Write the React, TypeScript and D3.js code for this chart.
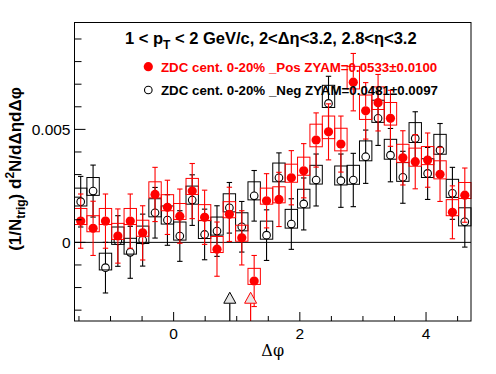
import * as d3 from 'd3';

// Δφ bin centres (32 bins over [-π/2, 3π/2])
const binCenters = [
  -1.4726, -1.2763, -1.0799, -0.8836, -0.6872, -0.4909, -0.2945, -0.0982,
  0.0982, 0.2945, 0.4909, 0.6872, 0.8836, 1.0799, 1.2763, 1.4726,
  1.669, 1.8653, 2.0617, 2.258, 2.4544, 2.6507, 2.8471, 3.0434,
  3.2398, 3.4361, 3.6325, 3.8288, 4.0252, 4.2215, 4.4179, 4.6142,
];
const halfBin = 0.09817;

// ZDC cent. 0-20% _Pos (red, filled)
const posY = [
  0.00094, 0.00062, 0.00094, 0.00028, 0.00094, 0.00042, 0.00212, 0.00155,
  0.00116, 0.00227, 0.00111, -0.0003, 0.00124, 0.0002, -0.00171, 0.00184,
  0.0019, 0.00286, 0.00317, 0.00453, 0.00489, 0.00435, 0.00709, 0.00582,
  0.00618, 0.00549, 0.00374, 0.00357, 0.00364, 0.00301, 0.00133, 0.00209,
];
const posErr = [
  0.0012, 0.0012, 0.0012, 0.0012, 0.0012, 0.0012, 0.0012, 0.0012,
  0.0012, 0.00122, 0.0012, 0.0012, 0.0012, 0.0012, 0.00113, 0.0012,
  0.0012, 0.0012, 0.0012, 0.0012, 0.00124, 0.00124, 0.00127, 0.00125,
  0.00125, 0.00124, 0.0012, 0.0012, 0.0012, 0.0012, 0.00117, 0.0012,
];
const posSysUp = [
  0.00056, 0.00056, 0.00056, 0.00056, 0.00056, 0.00056, 0.00056, 0.00056,
  0.00056, 0.00056, 0.00056, 0.00056, 0.00056, 0.00056, 0.00056, 0.00056,
  0.00056, 0.0006, 0.0006, 0.0007, 0.0007, 0.0007, 0.0007, 0.0007,
  0.0007, 0.0007, 0.0006, 0.0006, 0.0006, 0.0006, 0.00056, 0.00056,
];
const posSysDown = [
  0.00015, 0.00015, 0.00015, 0.00015, 0.00015, 0.00015, 0.00015, 0.00015,
  0.00015, 0.00015, 0.00015, 0.00015, 0.00015, 0.00015, 0.00015, 0.00015,
  0.00015, 0.0002, 0.0002, 0.0003, 0.0003, 0.0003, 0.0003, 0.00038,
  0.0003, 0.0003, 0.0002, 0.0002, 0.0002, 0.0002, 0.00015, 0.00015,
];

// ZDC cent. 0-20% _Neg (black, open)
const negY = [
  0.0018, 0.00227, -0.00112, 0.00006, -0.00044, 0.0001, 0.00131, 0.00099,
  0.00028, 0.00187, 0.00035, 0.0005, 0.00153, 0.00069, 0.00206, 0.00032,
  0.00286, 0.00081, 0.0017, 0.00276, 0.00615, 0.00273, 0.00276, 0.00379,
  0.00549, 0.00386, 0.00288, 0.0046, 0.00305, 0.00408, 0.00217, 0.00091,
];
const negErr = [
  0.00112, 0.00115, 0.00112, 0.00112, 0.00115, 0.00115, 0.00112, 0.00112,
  0.00112, 0.00112, 0.00112, 0.00112, 0.00112, 0.00112, 0.00112, 0.00112,
  0.0011, 0.00112, 0.00115, 0.00115, 0.0012, 0.00118, 0.00118, 0.00118,
  0.0012, 0.00118, 0.00115, 0.00118, 0.00115, 0.00118, 0.00115, 0.00112,
];
const negSysUp = [
  0.0006, 0.0006, 0.00064, 0.00062, 0.00062, 0.00062, 0.00062, 0.00062,
  0.00062, 0.00062, 0.00062, 0.00062, 0.00062, 0.00062, 0.00062, 0.00062,
  0.00065, 0.00065, 0.00065, 0.00065, 0.0008, 0.00065, 0.00065, 0.0007,
  0.0008, 0.0007, 0.00065, 0.0007, 0.00065, 0.0007, 0.00062, 0.00062,
];
const negSysDown = [
  0.00019, 0.00019, 0.0001, 0.00015, 0.00008, 0.00015, 0.00018, 0.00018,
  0.00018, 0.00018, 0.00018, 0.00018, 0.00018, 0.00018, 0.00018, 0.00018,
  0.00018, 0.00018, 0.00018, 0.00018, 0.00018, 0.00019, 0.00019, 0.00018,
  0.00018, 0.00018, 0.00018, 0.00018, 0.00018, 0.00018, 0.00018, 0.00018,
];

// ZYAM positions (triangles)
const zyamNegX = 0.89;
const zyamPosX = 1.22;
const zyamMarkY = -0.00245;

const xMajorTicks = [0, 2, 4];
const xMinorTicks = [-1.5, -1, -0.5, 0.5, 1, 1.5, 2.5, 3, 3.5, 4.5];
const yMajorTicks = [0, 0.005];
const yMajorLabels = ['0', '0.005'];
const yMinorTicks = [-0.003, -0.002, -0.001, 0.001, 0.002, 0.003, 0.004, 0.006, 0.007, 0.008, 0.009];

const W = 496;
const H = 374;
const margin = { left: 74.5, right: 25, top: 22.5, bottom: 53 };
const font = '"Liberation Sans", Arial, Helvetica, sans-serif';

const x = d3.scaleLinear().domain([-Math.PI / 2, (3 * Math.PI) / 2]).range([margin.left, W - margin.right]);
const y = d3.scaleLinear().domain([-0.00348, 0.00973]).range([H - margin.bottom, margin.top]);

type SeriesProps = {
  values: number[];
  errs: number[];
  sysUp: number[];
  sysDown: number[];
  color: string;
  filled: boolean;
};

function Series({ values, errs, sysUp, sysDown, color, filled }: SeriesProps) {
  const r = filled ? 4.6 : 3.8;
  return (
    <g>
      {values.map((v, i) => {
        const c = binCenters[i];
        const x0 = x(c - halfBin);
        const x1 = x(c + halfBin);
        const yt = y(v + sysUp[i]);
        const yb = y(v - sysDown[i]);
        return <rect key={'b' + i} x={x0} y={yt} width={x1 - x0} height={yb - yt} fill="none" stroke={color} strokeWidth={1} />;
      })}
      {values.map((v, i) => {
        const cx = x(binCenters[i]);
        const cy = y(v);
        const hi = y(v + errs[i]);
        const lo = y(v - errs[i]);
        return (
          <g key={'e' + i} stroke={color} strokeWidth={1.1}>
            <line x1={cx} x2={cx} y1={hi} y2={cy - r} />
            <line x1={cx} x2={cx} y1={cy + r} y2={lo} />
            <line x1={cx - 2.7} x2={cx + 2.7} y1={hi} y2={hi} />
            <line x1={cx - 2.7} x2={cx + 2.7} y1={lo} y2={lo} />
          </g>
        );
      })}
      {values.map((v, i) => (
        <circle
          key={'m' + i}
          cx={x(binCenters[i])}
          cy={y(v)}
          r={r}
          fill={filled ? color : 'none'}
          stroke={color}
          strokeWidth={filled ? 0 : 1.1}
        />
      ))}
    </g>
  );
}

function ZyamMark({ at, color }: { at: number; color: string }) {
  const cx = x(at);
  const cy = y(zyamMarkY);
  const tri = `M${cx},${cy - 5.5} L${cx + 6},${cy + 5.5} L${cx - 6},${cy + 5.5} Z`;
  return (
    <g>
      <line x1={cx} x2={cx} y1={cy + 5.5} y2={H - margin.bottom} stroke={color} strokeWidth={1.2} />
      <path d={tri} fill="#e6e6e6" stroke={color} strokeWidth={1} />
    </g>
  );
}

export default function App() {
  const left = margin.left;
  const right = W - margin.right;
  const top = margin.top;
  const bottom = H - margin.bottom;
  return (
    <svg width={W} height={H} style={{ position: 'absolute', left: 0, top: 0, background: '#fff' }} fontFamily={font}>
      <rect x={0} y={0} width={W} height={H} fill="#fff" />
      {/* zero line */}
      <line x1={left} x2={right} y1={y(0)} y2={y(0)} stroke="#000" strokeWidth={1} />

      <Series values={negY} errs={negErr} sysUp={negSysUp} sysDown={negSysDown} color="#000" filled={false} />
      <Series values={posY} errs={posErr} sysUp={posSysUp} sysDown={posSysDown} color="#ff0000" filled={true} />

      <ZyamMark at={zyamNegX} color="#000" />
      <ZyamMark at={zyamPosX} color="#ff0000" />

      {/* frame */}
      <rect x={left} y={top} width={right - left} height={bottom - top} fill="none" stroke="#000" strokeWidth={1} />

      {/* x axis ticks */}
      {xMajorTicks.map((t) => (
        <g key={'xt' + t}>
          <line x1={x(t)} x2={x(t)} y1={bottom} y2={bottom - 9} stroke="#000" />
          <text x={x(t)} y={339} textAnchor="middle" fontSize={15.5}>{t}</text>
        </g>
      ))}
      {xMinorTicks.map((t) => (
        <line key={'xm' + t} x1={x(t)} x2={x(t)} y1={bottom} y2={bottom - 5} stroke="#000" />
      ))}
      <text x={(left + right) / 2} y={356} textAnchor="middle" fontSize={16} fontFamily='"DejaVu Serif", serif'>Δφ</text>

      {/* y axis ticks */}
      {yMajorTicks.map((t, i) => (
        <g key={'yt' + t}>
          <line x1={left} x2={left + 11} y1={y(t)} y2={y(t)} stroke="#000" />
          <text x={left - 4} y={y(t) + 5.5} textAnchor="end" fontSize={15.5}>{yMajorLabels[i]}</text>
        </g>
      ))}
      {yMinorTicks.map((t) => (
        <line key={'ym' + t} x1={left} x2={left + 7} y1={y(t)} y2={y(t)} stroke="#000" />
      ))}
      <text transform="translate(20.5,169) rotate(-90)" textAnchor="middle" fontSize={17} fontWeight="bold">
        (1/N<tspan fontSize={12} dy={4}>trig</tspan><tspan dy={-4}>) d</tspan>
        <tspan fontSize={12} dy={-7}>2</tspan><tspan dy={7}>N/dΔηdΔφ</tspan>
      </text>

      {/* title */}
      <text x={125} y={43.5} fontSize={16.5} fontWeight="bold">
        1 &lt; p<tspan fontSize={12} dy={5}>T</tspan><tspan dy={-5}> &lt; 2 GeV/c, 2&lt;Δη&lt;3.2, 2.8&lt;η&lt;3.2</tspan>
      </text>

      {/* legend */}
      <circle cx={148.3} cy={66.7} r={4.6} fill="#ff0000" />
      <text x={161} y={71.7} fontSize={13.3} fontWeight="bold" fill="#ff0000">
        ZDC cent. 0-20% _Pos ZYAM=0.0533±0.0100
      </text>
      <circle cx={148.3} cy={90} r={3.8} fill="none" stroke="#000" strokeWidth={1.1} />
      <text x={161} y={95} fontSize={13.3} fontWeight="bold" fill="#000">
        ZDC cent. 0-20% _Neg ZYAM=0.0481±0.0097
      </text>
    </svg>
  );
}
